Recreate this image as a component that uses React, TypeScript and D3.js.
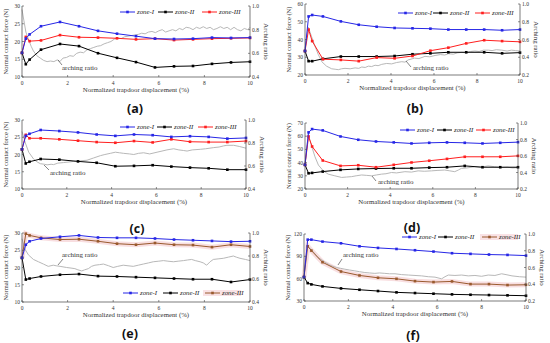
import React from 'react';
import * as d3 from 'd3';

const xDisp = [0, 0.167, 0.333, 0.833, 1.667, 2.5, 3.333, 4.167, 5, 5.833, 6.667, 7.5, 8.333, 9.167, 10];
const xTicks = [0, 2, 4, 6, 8, 10];
const zoneNames = ['zone-I', 'zone-II', 'zone-III'];

// (a)
const aZoneI = [16.8, 20.8, 22.0, 24.3, 25.5, 24.3, 23.0, 22.2, 21.5, 20.8, 20.7, 20.8, 21.1, 21.0, 21.1];
const aZoneII = [16.8, 13.6, 14.9, 17.7, 19.3, 18.7, 16.7, 15.4, 14.2, 12.7, 13.0, 13.1, 13.7, 14.1, 14.3];
const aZoneIII = [16.8, 21.3, 20.1, 20.3, 21.8, 21.2, 21.1, 20.9, 20.6, 20.8, 20.4, 20.6, 20.8, 20.9, 21.0];
const aArch: [number, number][] = [[0, 0.97], [0.08, 0.88], [0.17, 0.78], [0.28, 0.72], [0.4, 0.66], [0.5, 0.62], [0.65, 0.58], [0.8, 0.56], [0.95, 0.54], [1.1, 0.53], [1.25, 0.535], [1.4, 0.53], [1.55, 0.545], [1.66, 0.53], [1.8, 0.56], [1.95, 0.565], [2.1, 0.58], [2.25, 0.575], [2.4, 0.6], [2.55, 0.61], [2.7, 0.605], [2.85, 0.63], [3.0, 0.64], [3.15, 0.65], [3.3, 0.66], [3.45, 0.665], [3.6, 0.68], [3.75, 0.69], [3.9, 0.7], [4.05, 0.72], [4.2, 0.73], [4.35, 0.725], [4.5, 0.74], [4.65, 0.745], [4.8, 0.75], [4.95, 0.755], [5.1, 0.76], [5.25, 0.77], [5.4, 0.765], [5.55, 0.78], [5.7, 0.785], [5.85, 0.775], [6.0, 0.79], [6.15, 0.8], [6.3, 0.78], [6.45, 0.79], [6.6, 0.8], [6.75, 0.79], [6.9, 0.81], [7.05, 0.8], [7.2, 0.82], [7.35, 0.815], [7.5, 0.8], [7.65, 0.82], [7.8, 0.81], [7.95, 0.825], [8.1, 0.81], [8.25, 0.82], [8.4, 0.8], [8.55, 0.81], [8.7, 0.825], [8.85, 0.81], [9.0, 0.82], [9.15, 0.8], [9.3, 0.82], [9.45, 0.8], [9.6, 0.79], [9.75, 0.81], [9.9, 0.8], [10, 0.82]];

// (b)
const bZoneI = [33.5, 53.0, 53.8, 53.0, 50.2, 48.3, 47.2, 46.5, 46.3, 46.1, 45.6, 45.6, 45.6, 45.2, 45.6];
const bZoneII = [33.5, 27.8, 27.8, 29.1, 30.4, 30.4, 30.4, 30.7, 31.7, 32.2, 32.8, 32.8, 32.8, 32.2, 32.6];
const bZoneIII = [33.5, 45.6, 39.1, 28.9, 28.5, 27.8, 29.8, 29.4, 30.7, 33.7, 35.4, 37.8, 39.6, 39.1, 38.7];
const bArch: [number, number][] = [[0, 0.5], [0.15, 0.74], [0.31, 0.63], [0.47, 0.52], [0.62, 0.43], [0.78, 0.35], [1.0, 0.3], [1.24, 0.27], [1.4, 0.265], [1.55, 0.26], [1.7, 0.27], [1.86, 0.275], [2.1, 0.27], [2.33, 0.28], [2.5, 0.275], [2.64, 0.29], [2.8, 0.285], [2.95, 0.3], [3.1, 0.295], [3.26, 0.31], [3.4, 0.305], [3.57, 0.32], [3.8, 0.33], [4.03, 0.325], [4.25, 0.34], [4.5, 0.35], [4.65, 0.345], [4.8, 0.37], [5.1, 0.39], [5.3, 0.385], [5.58, 0.41], [5.8, 0.405], [6.05, 0.42], [6.3, 0.43], [6.5, 0.425], [6.67, 0.44], [6.9, 0.435], [7.1, 0.45], [7.29, 0.455], [7.5, 0.45], [7.7, 0.465], [7.9, 0.47], [8.1, 0.465], [8.3, 0.48], [8.53, 0.48], [8.7, 0.475], [8.9, 0.485], [9.15, 0.48], [9.4, 0.47], [9.6, 0.48], [9.8, 0.475], [10, 0.47]];

// (c)
const cZoneI = [21.5, 25.4, 26.0, 27.1, 26.8, 26.4, 25.8, 25.4, 25.8, 25.6, 25.1, 25.3, 25.1, 24.6, 24.8];
const cZoneII = [21.5, 17.4, 17.9, 18.7, 18.5, 18.0, 17.6, 16.6, 16.7, 16.9, 16.5, 16.2, 16.0, 15.6, 15.6];
const cZoneIII = [21.5, 25.7, 24.7, 24.7, 24.4, 24.0, 23.6, 23.4, 23.9, 23.5, 24.4, 23.7, 23.6, 23.6, 23.9];
const cArch: [number, number][] = [[0, 0.9], [0.15, 0.8], [0.3, 0.72], [0.52, 0.66], [0.68, 0.635], [0.82, 0.62], [1.0, 0.615], [1.12, 0.61], [1.3, 0.615], [1.41, 0.612], [1.6, 0.625], [1.86, 0.63], [2.1, 0.635], [2.31, 0.64], [2.6, 0.645], [2.9, 0.65], [3.2, 0.67], [3.5, 0.69], [3.7, 0.7], [3.94, 0.71], [4.17, 0.72], [4.35, 0.715], [4.54, 0.71], [4.8, 0.705], [4.99, 0.7], [5.2, 0.71], [5.43, 0.715], [5.7, 0.705], [6.03, 0.72], [6.25, 0.73], [6.47, 0.74], [6.77, 0.75], [7.0, 0.74], [7.2, 0.735], [7.37, 0.73], [7.6, 0.74], [7.96, 0.745], [8.2, 0.75], [8.56, 0.76], [8.8, 0.765], [9.0, 0.775], [9.15, 0.78], [9.45, 0.78], [9.7, 0.77], [10, 0.755]];

// (d)
const dZoneI = [38.3, 62.9, 65.4, 64.4, 59.8, 57.3, 56.0, 55.3, 54.5, 55.0, 55.3, 55.0, 54.5, 55.0, 55.5];
const dZoneII = [38.3, 31.9, 32.2, 33.2, 34.5, 35.2, 35.5, 35.7, 35.7, 36.2, 36.5, 37.5, 36.5, 36.5, 36.5];
const dZoneIII = [38.3, 59.8, 52.2, 41.6, 37.5, 38.0, 36.5, 38.3, 40.1, 41.4, 42.8, 44.4, 44.4, 44.4, 45.1];
const dArch: [number, number][] = [[0, 0.5], [0.15, 0.86], [0.31, 0.72], [0.47, 0.59], [0.63, 0.49], [0.86, 0.42], [1.09, 0.38], [1.4, 0.36], [1.72, 0.34], [1.95, 0.345], [2.19, 0.35], [2.4, 0.36], [2.66, 0.37], [2.9, 0.365], [3.13, 0.36], [3.35, 0.37], [3.59, 0.38], [3.8, 0.385], [4.06, 0.4], [4.3, 0.395], [4.69, 0.41], [5.0, 0.405], [5.31, 0.42], [5.6, 0.415], [5.94, 0.42], [6.2, 0.425], [6.56, 0.43], [6.8, 0.42], [7.03, 0.41], [7.2, 0.43], [7.34, 0.45], [7.6, 0.455], [7.97, 0.47], [8.3, 0.465], [8.59, 0.48], [8.9, 0.47], [9.22, 0.46], [9.5, 0.465], [9.75, 0.455], [10, 0.46]];

// (e)
const eZoneI = [22.8, 26.6, 27.6, 28.4, 28.9, 29.3, 28.7, 28.6, 28.6, 28.4, 28.1, 27.9, 27.7, 27.5, 27.6];
const eZoneII = [22.8, 16.5, 16.8, 17.4, 17.9, 18.1, 17.5, 17.4, 17.2, 17.0, 16.8, 16.6, 16.6, 15.8, 16.5];
const eZoneIII = [22.8, 29.8, 29.3, 28.6, 28.1, 28.2, 27.6, 26.9, 26.6, 27.1, 26.6, 26.5, 25.9, 26.6, 26.1];
const eArch: [number, number][] = [[0, 0.95], [0.13, 0.86], [0.28, 0.81], [0.5, 0.77], [0.72, 0.75], [0.94, 0.73], [1.15, 0.71], [1.37, 0.72], [1.5, 0.715], [1.67, 0.71], [1.96, 0.7], [2.15, 0.695], [2.32, 0.69], [2.45, 0.68], [2.62, 0.67], [2.75, 0.68], [2.91, 0.69], [3.05, 0.71], [3.2, 0.72], [3.4, 0.725], [3.57, 0.73], [3.8, 0.715], [4.0, 0.7], [4.2, 0.71], [4.44, 0.72], [4.65, 0.715], [4.88, 0.71], [5.1, 0.72], [5.32, 0.73], [5.55, 0.74], [5.76, 0.75], [6.0, 0.755], [6.2, 0.76], [6.4, 0.755], [6.64, 0.75], [6.85, 0.755], [7.08, 0.76], [7.25, 0.765], [7.44, 0.77], [7.6, 0.76], [7.81, 0.75], [7.95, 0.74], [8.1, 0.72], [8.25, 0.75], [8.39, 0.77], [8.6, 0.775], [8.83, 0.78], [9.05, 0.79], [9.27, 0.8], [9.4, 0.79], [9.56, 0.78], [9.8, 0.77], [10, 0.76]];

// (f)
const fZoneI = [62.1, 112.4, 112.4, 109.8, 107.5, 103.5, 101.3, 99.9, 98.2, 96.4, 94.2, 93.3, 92.4, 91.9, 91.0];
const fZoneII = [62.1, 54.0, 52.3, 49.6, 46.9, 45.1, 43.4, 41.6, 40.7, 39.8, 38.9, 38.4, 38.0, 37.6, 37.1];
const fZoneIII = [62.1, 103.5, 97.7, 82.1, 69.6, 64.3, 61.2, 59.8, 56.7, 55.4, 56.3, 52.7, 52.7, 51.4, 51.8];
const fArch: [number, number][] = [[0, 0.55], [0.15, 0.86], [0.3, 0.82], [0.41, 0.79], [0.63, 0.72], [0.86, 0.68], [1.0, 0.655], [1.16, 0.63], [1.3, 0.615], [1.46, 0.6], [1.65, 0.59], [1.84, 0.58], [2.05, 0.57], [2.29, 0.56], [2.5, 0.55], [2.74, 0.54], [2.95, 0.535], [3.19, 0.53], [3.4, 0.535], [3.64, 0.53], [3.85, 0.525], [4.1, 0.525], [4.4, 0.515], [4.7, 0.51], [5.0, 0.505], [5.3, 0.5], [5.6, 0.49], [5.9, 0.485], [6.2, 0.465], [6.35, 0.49], [6.5, 0.51], [6.8, 0.505], [7.1, 0.51], [7.4, 0.5], [7.7, 0.505], [8.0, 0.495], [8.3, 0.51], [8.6, 0.505], [8.9, 0.525], [9.1, 0.515], [9.37, 0.5], [9.7, 0.49], [10, 0.485]];

const BLUE = '#2626e6';
const RED = '#ff1f1f';
const BROWN = '#9a5a2e';
const GRAY = '#b8b8b8';
const SERIF = '"Liberation Serif", "Times New Roman", serif';

type Cfg = {
  left: number; right: number; top: number; bottom: number;
  yDomain: [number, number]; yTicks: number[];
  rDomain: [number, number]; rTicks: number[];
  z1: number[]; z2: number[]; z3: number[]; arch: [number, number][];
  z3Color: string; pink: boolean;
  legend: { xs: number[]; y: number };
  label: { text: string; x: number; y: number };
  ann: { tx: number; ty: number; x1: number; y1: number; x2: number; y2: number };
};

const panels: Cfg[] = [
  { left: 22, right: 250, top: 6, bottom: 77, yDomain: [10, 30], yTicks: [10, 15, 20, 25, 30], rDomain: [0.4, 1.0], rTicks: [0.4, 0.6, 0.8, 1.0],
    z1: aZoneI, z2: aZoneII, z3: aZoneIII, arch: aArch, z3Color: RED, pink: false,
    legend: { xs: [120, 158, 202], y: 12 }, label: { text: '(a)', x: 135, y: 113 },
    ann: { tx: 62, ty: 70, x1: 62, y1: 65, x2: 58, y2: 60 } },
  { left: 305, right: 520, top: 4, bottom: 75, yDomain: [20, 60], yTicks: [20, 30, 40, 50, 60], rDomain: [0.2, 1.0], rTicks: [0.2, 0.4, 0.6, 0.8, 1.0],
    z1: bZoneI, z2: bZoneII, z3: bZoneIII, arch: bArch, z3Color: RED, pink: false,
    legend: { xs: [398, 433, 475], y: 13 }, label: { text: '(b)', x: 415, y: 113 },
    ann: { tx: 413, ty: 70, x1: 411, y1: 67, x2: 406, y2: 61 } },
  { left: 22, right: 246, top: 120, bottom: 189, yDomain: [10, 30], yTicks: [10, 15, 20, 25, 30], rDomain: [0.4, 1.0], rTicks: [0.4, 0.6, 0.8, 1.0],
    z1: cZoneI, z2: cZoneII, z3: cZoneIII, arch: cArch, z3Color: RED, pink: false,
    legend: { xs: [120, 157, 198], y: 127 }, label: { text: '(c)', x: 137, y: 233 },
    ann: { tx: 50, ty: 175, x1: 49, y1: 170, x2: 44, y2: 165 } },
  { left: 305, right: 518, top: 123, bottom: 189, yDomain: [20, 70], yTicks: [20, 30, 40, 50, 60, 70], rDomain: [0.2, 1.0], rTicks: [0.2, 0.4, 0.6, 0.8, 1.0],
    z1: dZoneI, z2: dZoneII, z3: dZoneIII, arch: dArch, z3Color: RED, pink: false,
    legend: { xs: [400, 437, 476], y: 130 }, label: { text: '(d)', x: 412, y: 232 },
    ann: { tx: 378, ty: 184, x1: 376, y1: 181, x2: 372, y2: 176 } },
  { left: 22, right: 250, top: 233, bottom: 302, yDomain: [10, 30], yTicks: [10, 15, 20, 25, 30], rDomain: [0.4, 1.0], rTicks: [0.4, 0.6, 0.8, 1.0],
    z1: eZoneI, z2: eZoneII, z3: eZoneIII, arch: eArch, z3Color: BROWN, pink: true,
    legend: { xs: [123, 163, 205], y: 293 }, label: { text: '(e)', x: 130, y: 338 },
    ann: { tx: 62, ty: 257, x1: 63, y1: 259, x2: 58, y2: 265 } },
  { left: 304, right: 526, top: 234, bottom: 301, yDomain: [30, 120], yTicks: [30, 60, 90, 120], rDomain: [0.2, 1.0], rTicks: [0.2, 0.4, 0.6, 0.8, 1.0],
    z1: fZoneI, z2: fZoneII, z3: fZoneIII, arch: fArch, z3Color: BROWN, pink: true,
    legend: { xs: [402, 438, 482], y: 237 }, label: { text: '(f)', x: 413, y: 340 },
    ann: { tx: 343, ty: 257, x1: 342, y1: 259, x2: 338, y2: 265 } },
];

function Markers({ vals, x, y, color }: { vals: number[]; x: any; y: any; color: string }) {
  return (
    <g>
      {vals.map((v, i) => (
        <rect key={i} x={x(xDisp[i]) - 1.3} y={y(v) - 1.3} width={2.6} height={2.6} fill={color} />
      ))}
    </g>
  );
}

function Panel({ c }: { c: Cfg }) {
  const x = d3.scaleLinear().domain([0, 10]).range([c.left, c.right]);
  const y = d3.scaleLinear().domain(c.yDomain).range([c.bottom, c.top]);
  const r = d3.scaleLinear().domain(c.rDomain).range([c.bottom, c.top]);
  const line = d3.line<number>().x((_, i) => x(xDisp[i])).y((d) => y(d));
  const archLine = d3.line<[number, number]>().x((d) => x(d[0])).y((d) => r(d[1]));
  const midY = (c.top + c.bottom) / 2;
  const midX = (c.left + c.right) / 2;
  const colors = [BLUE, '#000', c.z3Color];
  const axisColor = '#444';
  return (
    <g>
      {c.pink && <path d={line(c.z3) || ''} fill="none" stroke="#f4c8cc" strokeWidth={5} strokeOpacity={0.6} />}
      <path d={archLine(c.arch) || ''} fill="none" stroke={GRAY} strokeWidth={1} />
      <path d={line(c.z2) || ''} fill="none" stroke="#000" strokeWidth={1} />
      <Markers vals={c.z2} x={x} y={y} color="#000" />
      <path d={line(c.z3) || ''} fill="none" stroke={c.z3Color} strokeWidth={1} />
      <Markers vals={c.z3} x={x} y={y} color={c.z3Color} />
      <path d={line(c.z1) || ''} fill="none" stroke={BLUE} strokeWidth={1} />
      <Markers vals={c.z1} x={x} y={y} color={BLUE} />
      {/* axes */}
      <line x1={c.left} x2={c.left} y1={c.top} y2={c.bottom} stroke={axisColor} strokeWidth={0.7} />
      <line x1={c.right} x2={c.right} y1={c.top} y2={c.bottom} stroke={axisColor} strokeWidth={0.7} />
      <line x1={c.left} x2={c.right} y1={c.bottom} y2={c.bottom} stroke={axisColor} strokeWidth={0.7} />
      {c.yTicks.map((t) => (
        <g key={'l' + t}>
          <line x1={c.left} x2={c.left + 2} y1={y(t)} y2={y(t)} stroke={axisColor} strokeWidth={0.6} />
          <text x={c.left - 2} y={y(t) + 2} fontSize={5.5} textAnchor="end" fill="#333" fontFamily={SERIF}>{t}</text>
        </g>
      ))}
      {c.rTicks.map((t) => (
        <g key={'r' + t}>
          <line x1={c.right - 2} x2={c.right} y1={r(t)} y2={r(t)} stroke={axisColor} strokeWidth={0.6} />
          <text x={c.right + 2} y={r(t) + 2} fontSize={5.5} textAnchor="start" fill="#333" fontFamily={SERIF}>{t.toFixed(1)}</text>
        </g>
      ))}
      {xTicks.map((t) => (
        <g key={'x' + t}>
          <line x1={x(t)} x2={x(t)} y1={c.bottom - 2} y2={c.bottom} stroke={axisColor} strokeWidth={0.6} />
          <text x={x(t)} y={c.bottom + 8} fontSize={5.5} textAnchor="middle" fill="#333" fontFamily={SERIF}>{t}</text>
        </g>
      ))}
      <text x={midX} y={c.bottom + 15} fontSize={6.8} textAnchor="middle" fill="#333" fontFamily={SERIF}>Normalized trapdoor displacement (%)</text>
      <text transform={`translate(${c.left - 14},${midY}) rotate(-90)`} fontSize={6.5} textAnchor="middle" fill="#333" fontFamily={SERIF}>Normal contact force (N)</text>
      <text transform={`translate(${c.right + 14},${midY}) rotate(90)`} fontSize={6.8} textAnchor="middle" fill="#333" fontFamily={SERIF}>Arching ratio</text>
      {/* legend */}
      {c.legend.xs.map((lx, i) => (
        <g key={'lg' + i}>
          {i === 2 && c.pink && <rect x={lx - 2} y={c.legend.y - 3} width={38} height={6} fill="#f7d6da" opacity={0.7} />}
          <line x1={lx} x2={lx + 15} y1={c.legend.y} y2={c.legend.y} stroke={colors[i]} strokeWidth={1} />
          <rect x={lx + 7.5 - 1.3} y={c.legend.y - 1.3} width={2.6} height={2.6} fill={colors[i]} />
          <text x={lx + 17} y={c.legend.y + 2} fontSize={6.8} fontStyle="italic" fill="#222" fontFamily={SERIF}>{zoneNames[i]}</text>
        </g>
      ))}
      {/* annotation */}
      <line x1={c.ann.x1} y1={c.ann.y1} x2={c.ann.x2} y2={c.ann.y2} stroke="#333" strokeWidth={0.6} />
      <text x={c.ann.tx} y={c.ann.ty} fontSize={7} fill="#333" fontFamily={SERIF}>arching ratio</text>
      <text x={c.label.x} y={c.label.y} fontSize={12.5} fontWeight="bold" textAnchor="middle" fill="#111" fontFamily='"Open Sans", "DejaVu Sans", sans-serif'>{c.label.text}</text>
    </g>
  );
}

export default function App() {
  return (
    <svg width={550} height={343} style={{ position: 'absolute', left: 0, top: 0, background: '#fff' }}>
      <rect width={550} height={343} fill="#fff" />
      {panels.map((c, i) => (
        <Panel key={i} c={c} />
      ))}
    </svg>
  );
}
